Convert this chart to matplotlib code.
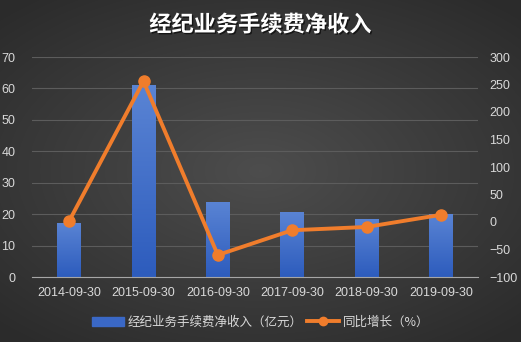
import numpy as np
import matplotlib.pyplot as plt
import matplotlib.patheffects as pe
from matplotlib.colors import LinearSegmentedColormap

plt.rcParams['font.family'] = ['Liberation Sans', 'Noto Sans CJK SC', 'DejaVu Sans']

dates = ['2014-09-30', '2015-09-30', '2016-09-30', '2017-09-30', '2018-09-30', '2019-09-30']
income = [17.2, 61.1, 23.9, 20.7, 18.5, 20.1]
growth = [1.8, 256, -60, -15, -9, 13]

fig = plt.figure(figsize=(5.21, 3.42), dpi=100)

# radial background
bg = fig.add_axes([0, 0, 1, 1])
yy, xx = np.mgrid[-1:1:342j, -1:1:521j]
r = np.sqrt((xx * 0.9) ** 2 + (yy * 1.0) ** 2)
bg.imshow(r, cmap=LinearSegmentedColormap.from_list('bg', ['#4d4d4d', '#2b2b2b']),
          aspect='auto', extent=[0, 1, 0, 1], vmin=0, vmax=1.3)
bg.axis('off')

ax = fig.add_axes([32 / 521, 1 - 277 / 342, 446 / 521, 220 / 342])
ax.patch.set_alpha(0)
x = np.arange(len(dates))
w = 0.32
bars = ax.bar(x, income, width=w, color='#3a68c6', zorder=2)
grad = np.linspace(0, 1, 100).reshape(-1, 1)
bar_cmap = LinearSegmentedColormap.from_list('bar', ['#2d5cbd', '#5a84d4'])
for b in bars:
    x0, y0 = b.get_x(), b.get_y()
    im = ax.imshow(grad, cmap=bar_cmap, aspect='auto', origin='lower',
                   extent=[x0, x0 + b.get_width(), y0, y0 + b.get_height()], zorder=2)
    im.set_clip_path(b)
ax.set_xlim(-0.5, 5.5)
ax.set_ylim(0, 70)
ax.set_yticks(range(0, 71, 10))
ax.set_xticks(x)
ax.set_xticklabels(dates)
ax.grid(axis='y', color='#5c5c5c', linewidth=0.8, zorder=0)
ax.set_axisbelow(True)
for s in ['top', 'left', 'right']:
    ax.spines[s].set_visible(False)
ax.spines['bottom'].set_color('#a6a6a6')
ax.tick_params(length=0, colors='#d9d9d9', labelsize=9)
ax.tick_params(axis='y', pad=12)
ax.tick_params(axis='x', pad=7)

ax2 = ax.twinx()
ax2.plot(x, growth, color='#f07d2c', linewidth=2.8, marker='o', markersize=8, zorder=3)
ax2.set_ylim(-100, 300)
ax2.set_yticks(range(-100, 301, 50))
for s in ax2.spines.values():
    s.set_visible(False)
ax2.tick_params(length=0, colors='#d9d9d9', labelsize=9, pad=8)

fig.text(0.5, 1 - 25 / 342, '经纪业务手续费净收入', ha='center', va='center',
         color='white', fontsize=16, fontweight='bold', family=['Noto Sans CJK SC'],
         path_effects=[pe.withSimplePatchShadow(offset=(1, -1), shadow_rgbFace='black', alpha=0.6)])

h1 = plt.Rectangle((0, 0), 1, 1, color='#3a68c6')
h2 = plt.Line2D([], [], color='#f07d2c', linewidth=2.8, marker='o', markersize=6)
leg = fig.legend([h1, h2], ['经纪业务手续费净收入（亿元）', '同比增长（%）'],
                 loc='center', bbox_to_anchor=(0.5, 1 - 322 / 342), ncol=2, frameon=False,
                 labelcolor='#d9d9d9', handlelength=2.6, handletextpad=0.3,
                 columnspacing=0.3, prop={'family': ['Noto Sans CJK SC'], 'size': 9})

fig.savefig('out.png', dpi=100)
